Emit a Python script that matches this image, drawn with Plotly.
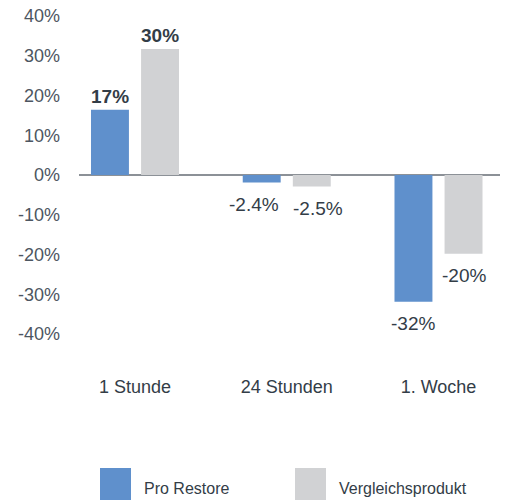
import plotly.graph_objects as go

categories = ["1 Stunde", "24 Stunden", "1. Woche"]
series_names = ["Pro Restore", "Vergleichsprodukt"]
pro_restore = [16.4, -1.9, -31.9]
vergleich = [31.7, -2.9, -19.8]
pro_labels = ["17%", "-2.4%", "-32%"]
vergleich_labels = ["30%", "-2.5%", "-20%"]
y_ticks = [-40, -30, -20, -10, 0, 10, 20, 30, 40]

BLUE = "#5f90cc"
GRAY = "#d1d2d4"
TEXT = "#333d47"
FONT = "Liberation Sans"

fig = go.Figure()
offsets = [-0.29, 0.04]
series = [pro_restore, vergleich]
labels = [pro_labels, vergleich_labels]
colors = [BLUE, GRAY]
# small horizontal nudges so neighbouring labels don't collide
label_nudge = [[0, -8, 0], [0, 6, 0]]

for name, vals, col, off in zip(series_names, series, colors, offsets):
    fig.add_trace(go.Bar(x=categories, y=vals, name=name, marker_color=col,
                         marker_line_width=0, width=0.25, offset=off,
                         showlegend=False))

annotations = []
for vals, labs, off, nud in zip(series, labels, offsets, label_nudge):
    for j, (v, t) in enumerate(zip(vals, labs)):
        pos = v >= 0
        annotations.append(dict(
            x=j + off + 0.125, y=v, xref="x", yref="y", text=t, showarrow=False,
            yshift=13 if pos else -22, xshift=nud[j],
            yanchor="middle", xanchor="center",
            font=dict(family=FONT, size=19, color=TEXT,
                      weight="bold" if pos else "normal")))

# legend drawn as swatches + labels below the chart
shapes = []
legend_x = [21, 216]
for nm, col, lx in zip(series_names, colors, legend_x):
    shapes.append(dict(type="rect", xref="paper", yref="paper",
                       xsizemode="pixel", ysizemode="pixel", xanchor=0, yanchor=0,
                       x0=lx, x1=lx + 31, y0=-134, y1=-166,
                       fillcolor=col, line_width=0))
    annotations.append(dict(x=0, y=0, xref="paper", yref="paper", xshift=lx + 42,
                            yshift=-154, text=nm, showarrow=False,
                            xanchor="left", yanchor="middle",
                            font=dict(family=FONT, size=16, color=TEXT)))

fig.update_layout(
    width=508, height=500,
    margin=dict(l=71, r=8, t=8, b=174, autoexpand=False),
    plot_bgcolor="white", paper_bgcolor="white",
    barmode="overlay",
    shapes=shapes, annotations=annotations,
    xaxis=dict(type="category", range=[-0.369, 2.458], showgrid=False,
               showline=False, zeroline=False, ticks="", automargin=False,
               ticklabelstandoff=40,
               tickfont=dict(family=FONT, size=18, color=TEXT)),
    yaxis=dict(range=[-40, 40], tickvals=y_ticks,
               ticktext=[f"{v}%" for v in y_ticks],
               showgrid=False, showline=False, zeroline=True, automargin=False,
               zerolinecolor="#8c9197", zerolinewidth=1.5, ticks="",
               ticklabelstandoff=18, ticklabeloverflow="allow",
               tickfont=dict(family=FONT, size=18, color="#4d5661")),
)

fig.write_html("out.html")
